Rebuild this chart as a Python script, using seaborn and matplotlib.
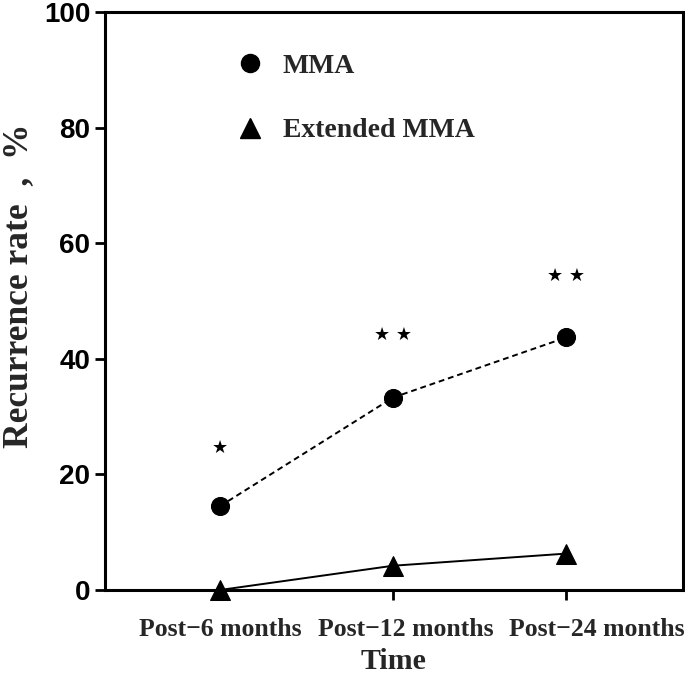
import pandas as pd
import seaborn as sns
import matplotlib.pyplot as plt
from matplotlib.lines import Line2D

# dados
tempos = ['Post\u22126 months', 'Post\u221212 months', 'Post\u221224 months']
mma = [14.5, 33.3, 43.7]
mma_estendida = [0.0, 4.2, 6.3]
asteriscos = ['\u2605', '\u2605 \u2605', '\u2605 \u2605']
pos_asteriscos = [24.6, 44.1, 54.3]

df = pd.DataFrame({'Time': tempos * 2,
                   'Rate': mma + mma_estendida,
                   'Group': ['MMA'] * 3 + ['Extended MMA'] * 3})

sns.set_theme(style='ticks')

fig = plt.figure(figsize=(6.85, 6.77), dpi=100)
ax = fig.add_axes([0.153, 0.1285, 0.844, 0.8535])

sns.lineplot(data=df[df['Group'] == 'MMA'], x='Time', y='Rate', ax=ax,
             color='black', marker='o', markersize=13, linewidth=1.4,
             linestyle=(0, (3, 2)), markeredgecolor='black')
sns.lineplot(data=df[df['Group'] == 'Extended MMA'], x='Time', y='Rate', ax=ax,
             color='black', marker='^', markersize=14, linewidth=1.4,
             markeredgecolor='black', clip_on=False)

for i, (s, y) in enumerate(zip(asteriscos, pos_asteriscos)):
    ax.text(i, y, s, ha='center', va='center', fontsize=13,
            family='DejaVu Sans', color='black')

ax.set_xlim(-0.665, 2.675)
ax.set_ylim(0, 100)
ax.set_yticks([0, 20, 40, 60, 80, 100])

for sp in ax.spines.values():
    sp.set_linewidth(2.2)
    sp.set_color('black')
ax.tick_params(axis='both', direction='out', length=7, width=2, colors='black')

for lab in ax.get_yticklabels():
    lab.set_fontfamily('Liberation Sans')
    lab.set_fontweight('bold')
    lab.set_fontsize(20)

# no original os rótulos do eixo x ficam um pouco deslocados para a direita,
# então desenhamos os rótulos à mão, ancorados em cada categoria
ax.set_xticks(range(len(tempos)))
ax.set_xticklabels([])
deslocamentos = [0, 9, 22]  # em pontos
for i, (rotulo, dx) in enumerate(zip(tempos, deslocamentos)):
    ax.annotate(rotulo, xy=(i, 0), xycoords=('data', 'axes fraction'),
                xytext=(dx, -28.5), textcoords='offset points',
                ha='center', va='center', fontsize=18.5,
                fontfamily='Liberation Serif', fontweight='bold',
                annotation_clip=False)

ax.set_xlabel('Time', fontfamily='Liberation Serif', fontweight='bold',
              fontsize=21.5)
ax.xaxis.set_label_coords(0.5, -0.1)
ax.set_ylabel('Recurrence rate  ,  %', fontfamily='Liberation Serif',
              fontweight='bold', fontsize=25.5)
ax.yaxis.set_label_coords(-0.121, 0.527)

handles = [Line2D([], [], color='black', marker='o', linestyle='none', markersize=13),
           Line2D([], [], color='black', marker='^', linestyle='none', markersize=14)]
ax.legend(handles, ['MMA', 'Extended MMA'], loc='upper left',
          bbox_to_anchor=(0.2024, 0.953), frameon=False, handlelength=1.0,
          handletextpad=0.69, labelspacing=1.41, borderpad=0,
          prop={'family': 'Liberation Serif', 'weight': 'bold', 'size': 20})

fig.savefig('out.png', dpi=100)
